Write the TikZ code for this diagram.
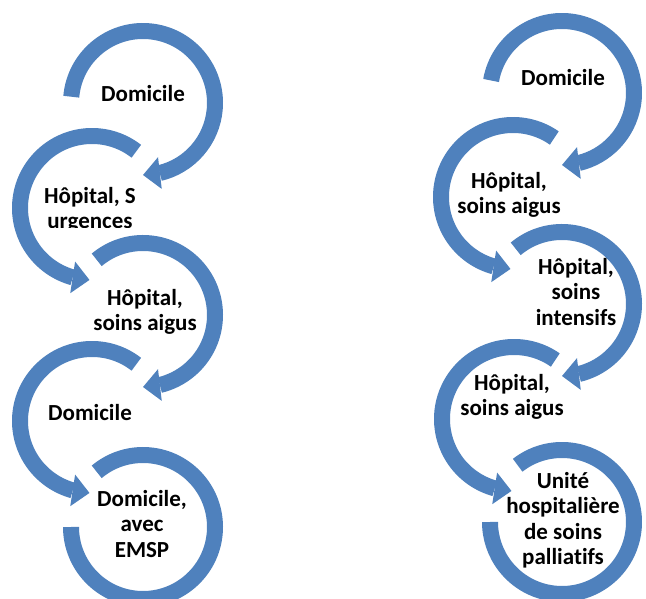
\documentclass[tikz,border=0pt]{standalone}
\usepackage{fontspec}
\setmainfont{Carlito}[Ligatures=NoCommon]
\usetikzlibrary{arrows.meta}
\usetikzlibrary{bending}
\definecolor{bleu}{RGB}{79,129,189}

\begin{document}
\begin{tikzpicture}[x=1pt, y=1pt,
anneau/.style={draw=bleu, line width=16pt},
fleche/.style={anneau, -{Triangle[length=17pt, width=32pt, line width=0pt]}},
etape/.style={inner sep=0, align=center, font=\fontsize{23}{25.5}\selectfont\bfseries}]

% SIZE OF THE PICTURE
\clip (0,0) rectangle (646,598);
%%%%%%%%% LEFT COLUMN %%%%%%%%%
\coordinate (cL1) at (143,495);
\coordinate (cL2) at (92,390);
\coordinate (cL3) at (143,283);
\coordinate (cL4) at (92,177);
\coordinate (cL5) at (143,71);
\draw[fleche] ([shift=(175:72)]cL1) arc[start angle=175, end angle=-90, radius=72pt];
\draw[fleche] ([shift=(52:72)]cL2) arc[start angle=52, end angle=268, radius=72pt];
\draw[fleche] ([shift=(130:72)]cL3) arc[start angle=130, end angle=-90, radius=72pt];
\draw[fleche] ([shift=(52:72)]cL4) arc[start angle=52, end angle=268, radius=72pt];
\draw[anneau] ([shift=(130:72)]cL5) arc[start angle=130, end angle=-180, radius=72pt];
\node[etape] (tL1) at (143,504) {Domicile};
\begin{scope}
\clip (0,370) rectangle (250,480);
\node[etape] (tL2) at (90,388) {Hôpital, S\\urgences};
\end{scope}
\node[etape] (tL3) at (145,286) {Hôpital,\\soins aigus};
\node[etape] (tL4) at (90,185) {Domicile};
\node[etape] (tL5) at (142,74) {Domicile,\\avec\\EMSP};
%%%%%%%%% RIGHT COLUMN %%%%%%%%%
\coordinate (cR1) at (562,505);
\coordinate (cR2) at (513,401);
\coordinate (cR3) at (562,294);
\coordinate (cR4) at (514,179);
\coordinate (cR5) at (562,76);
\draw[fleche] ([shift=(170:72)]cR1) arc[start angle=170, end angle=-90, radius=72pt];
\draw[fleche] ([shift=(55:72)]cR2) arc[start angle=55, end angle=268, radius=72pt];
\draw[fleche] ([shift=(130:72)]cR3) arc[start angle=130, end angle=-90, radius=72pt];
\draw[fleche] ([shift=(55:72)]cR4) arc[start angle=55, end angle=268, radius=72pt];
\draw[anneau] ([shift=(128:72)]cR5) arc[start angle=128, end angle=-180, radius=72pt];
\node[etape] (tR1) at (563,520) {Domicile};
\node[etape] (tR2) at (509,403) {Hôpital,\\soins aigus};
\node[etape] (tR3) at (576,306) {Hôpital,\\soins\\intensifs};
\node[etape] (tR4) at (512,201) {Hôpital,\\soins aigus};
\node[etape] (tR5) at (563,78) {Unité\\hospitalière\\de soins\\palliatifs};
\end{tikzpicture}
\end{document}
